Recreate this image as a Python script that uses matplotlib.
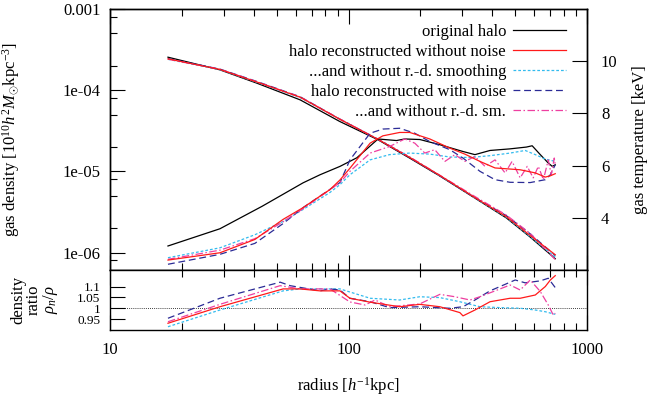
"""Gas density / temperature profiles of the original and reconstructed halo."""
import matplotlib
matplotlib.use("Agg")
import matplotlib.pyplot as plt
from matplotlib.ticker import FixedLocator, FixedFormatter, LogLocator, NullFormatter

plt.rcParams["font.family"] = ["Liberation Serif", "DejaVu Serif"]
plt.rcParams["mathtext.fontset"] = "custom"
plt.rcParams["mathtext.rm"] = "Liberation Serif"
plt.rcParams["mathtext.it"] = "Liberation Serif:italic"
plt.rcParams["font.size"] = 12

# ---- density profiles (h^-1 kpc, 10^10 h^2 Msun kpc^-3)
r_dens = [17.5, 28.9, 41.3, 62.7, 92, 133, 181, 241, 339, 459, 578, 736]
dens_orig = [2.55e-4, 1.78e-4, 1.22e-4, 7.6e-5, 4.11e-5, 2.45e-5, 1.45e-5, 8.8e-6, 4.68e-6, 2.67e-6, 1.55e-6, 8.4e-7]
dens_nonoise = [2.43e-4, 1.80e-4, 1.26e-4, 8.2e-5, 4.38e-5, 2.48e-5, 1.48e-5, 8.95e-6, 4.75e-6, 2.77e-6, 1.62e-6, 9.4e-7]
dens_nonoise_nosm = [2.40e-4, 1.79e-4, 1.25e-4, 8.1e-5, 4.4e-5, 2.5e-5, 1.49e-5, 8.9e-6, 4.7e-6, 2.72e-6, 1.57e-6, 8.8e-7]
dens_noise = [2.45e-4, 1.82e-4, 1.28e-4, 8.3e-5, 4.4e-5, 2.47e-5, 1.47e-5, 8.85e-6, 4.75e-6, 2.85e-6, 1.7e-6, 9.2e-7]
dens_noise_nosm = [2.41e-4, 1.81e-4, 1.27e-4, 8.25e-5, 4.42e-5, 2.49e-5, 1.5e-5, 9.0e-6, 4.9e-6, 2.9e-6, 1.72e-6, 8.2e-7]

# ---- temperature profiles (keV)
r_T_orig = [17.5, 28.9, 43.4, 64.5, 76, 92.1, 108.4, 133, 159, 172, 199, 241.6, 302, 339, 392, 474, 557, 589, 637, 688, 715, 736]
T_orig = [2.92, 3.58, 4.44, 5.34, 5.65, 5.97, 6.30, 7.02, 6.96, 7.02, 7.0, 6.8, 6.54, 6.42, 6.58, 6.64, 6.71, 6.76, 6.42, 6.10, 5.97, 6.03]

r_T_nonoise = [17.5, 28.9, 40.5, 53.2, 64.5, 76, 83.6, 92.1, 101.4, 123.2, 139.3, 163.9, 180.7, 219.3, 266, 307.6, 355.8, 411.5, 524.6, 607, 668.7, 702, 736]
T_nonoise = [2.38, 2.66, 3.17, 3.94, 4.39, 4.83, 5.08, 5.45, 5.9, 6.86, 7.14, 7.27, 7.27, 7.02, 6.67, 6.44, 6.16, 5.91, 5.84, 5.72, 5.56, 5.61, 5.69]

r_T_nonoise_nosm = [17.5, 28.9, 40.5, 53.2, 64.5, 83.6, 92.1, 101.4, 123.2, 148.6, 180.7, 219.3, 266, 323, 392, 476, 550.7, 607, 668.7, 736]
T_nonoise_nosm = [2.47, 2.85, 3.35, 3.86, 4.32, 4.97, 5.27, 5.65, 6.22, 6.42, 6.48, 6.44, 6.33, 6.31, 6.38, 6.48, 6.58, 6.42, 6.25, 6.16]

r_T_noise = [17.5, 28.9, 40.5, 53.2, 64.5, 92.1, 101.4, 123.2, 139.3, 163.9, 189.6, 219.3, 266, 302, 355.8, 411.5, 476, 578, 668.7, 702, 736]
T_noise = [2.22, 2.6, 3.02, 3.78, 4.39, 5.35, 6.22, 7.24, 7.40, 7.43, 7.24, 6.92, 6.61, 6.29, 5.78, 5.46, 5.36, 5.35, 5.46, 5.65, 6.03]

r_T_noise_nosm = [17.5, 28.9, 40.5, 53.2, 64.5, 92.1, 101.4, 123.2, 148.6, 172.1, 189.6, 208.9, 230, 253.6, 279.4, 307.6, 339, 373.5, 411.5, 453.5, 485, 524.6, 561.4, 595, 625, 656.5, 688, 708.5, 729, 736]
T_noise_nosm = [2.41, 2.76, 3.2, 3.85, 4.35, 5.35, 5.78, 6.48, 6.73, 7.02, 6.86, 6.48, 6.61, 6.16, 6.42, 6.16, 6.35, 5.97, 6.22, 5.72, 6.16, 5.53, 5.97, 5.53, 5.97, 5.46, 6.22, 5.65, 6.29, 6.03]

# ---- density ratio rho_n / rho
r_q_nonoise = [17.5, 28.9, 53.2, 62.7, 76, 92.1, 101.4, 123.2, 163.9, 199, 241.6, 293, 302, 339, 392, 476, 524.6, 607, 668.7, 702, 736]
q_nonoise = [0.931, 1.007, 1.089, 1.089, 1.08, 1.08, 1.046, 1.028, 1.007, 1.018, 1.007, 0.98, 0.965, 0.992, 1.03, 1.046, 1.046, 1.061, 1.1, 1.13, 1.15]

r_q_nonoise_nosm = [17.5, 28.9, 53.2, 62.7, 92.1, 123.2, 163.9, 199, 241.6, 293, 355.8, 432, 524.6, 607, 668.7, 736]
q_nonoise_nosm = [0.915, 0.992, 1.08, 1.089, 1.089, 1.046, 1.038, 1.053, 1.049, 1.03, 1.007, 1.003, 1.0, 0.992, 0.984, 0.972]

r_q_noise = [17.5, 28.9, 51.7, 56.9, 76, 83.6, 92.1, 101.4, 123.2, 148.6, 199, 266, 302, 339, 392, 453.5, 500, 550.7, 637, 688, 736]
q_noise = [0.954, 1.046, 1.12, 1.104, 1.08, 1.089, 1.084, 1.046, 1.03, 1.003, 1.007, 1.0, 1.007, 1.038, 1.08, 1.11, 1.13, 1.117, 1.126, 1.138, 1.095]

r_q_noise_nosm = [17.5, 28.9, 51.7, 62.7, 83.6, 101.4, 117.3, 129.3, 148.6, 199, 241.6, 279.4, 323, 355.8, 432, 476, 524.6, 578, 637, 688, 722, 736]
q_noise_nosm = [0.938, 1.018, 1.104, 1.089, 1.089, 1.029, 1.015, 1.038, 1.007, 1.02, 1.064, 1.053, 1.038, 1.053, 1.089, 1.107, 1.084, 1.13, 1.077, 1.015, 0.969, 0.977]

labels = [
    "original halo",
    "halo reconstructed without noise",
    "...and without r.-d. smoothing",
    "halo reconstructed with noise",
    "...and without r.-d. sm.",
]

BLACK = "black"
RED = "#ff1a1a"
CYAN = "#33bbee"
NAVY = "#2b2b96"
PINK = "#ee3fa0"
LW = 0.9

styles = {
    "orig": dict(color=BLACK, lw=LW, ls="-"),
    "nonoise": dict(color=RED, lw=LW, ls="-"),
    "nonoise_nosm": dict(color=CYAN, lw=LW, ls=(0, (2.2, 1.6))),
    "noise": dict(color=NAVY, lw=LW, ls=(0, (5.5, 3.0))),
    "noise_nosm": dict(color=PINK, lw=LW, ls=(0, (6, 2, 1.2, 2))),
}

fig = plt.figure(figsize=(6.53, 3.99), dpi=100)
W, H = 653.0, 399.0
ax = fig.add_axes([110 / W, (H - 270) / H, 477 / W, 261 / H])
axT = ax.twinx()
axR = fig.add_axes([110 / W, (H - 330) / H, 477 / W, 60 / H], sharex=ax)

# density curves
ax.plot(r_dens, dens_orig, **styles["orig"])
ax.plot(r_dens, dens_nonoise_nosm, **styles["nonoise_nosm"])
ax.plot(r_dens, dens_noise, **styles["noise"])
ax.plot(r_dens, dens_noise_nosm, **styles["noise_nosm"])
ax.plot(r_dens, dens_nonoise, **styles["nonoise"])

# temperature curves
h0, = axT.plot(r_T_orig, T_orig, **styles["orig"])
h2, = axT.plot(r_T_nonoise_nosm, T_nonoise_nosm, **styles["nonoise_nosm"])
h3, = axT.plot(r_T_noise, T_noise, **styles["noise"])
h4, = axT.plot(r_T_noise_nosm, T_noise_nosm, **styles["noise_nosm"])
h1, = axT.plot(r_T_nonoise, T_nonoise, **styles["nonoise"])

# ratio panel
axR.axhline(1.0, color="black", lw=0.6, ls=(0, (1, 1.5)))
axR.plot(r_q_nonoise_nosm, q_nonoise_nosm, **styles["nonoise_nosm"])
axR.plot(r_q_noise, q_noise, **styles["noise"])
axR.plot(r_q_noise_nosm, q_noise_nosm, **styles["noise_nosm"])
axR.plot(r_q_nonoise, q_nonoise, **styles["nonoise"])

ax.set_xscale("log")
ax.set_yscale("log")
ax.set_xlim(10, 1000)
ax.set_ylim(6.1e-7, 1e-3)
axT.set_ylim(2.0, 12.0)
axR.set_ylim(0.9, 1.176)

ax.yaxis.set_major_locator(FixedLocator([1e-6, 1e-5, 1e-4, 1e-3]))
ax.yaxis.set_major_formatter(FixedFormatter(["1e-06", "1e-05", "1e-04", "0.001"]))
ax.yaxis.set_minor_locator(LogLocator(base=10, subs=(2.0, 5.0, 8.0)))
ax.yaxis.set_minor_formatter(NullFormatter())
axT.set_yticks([4, 6, 8, 10])
axR.set_yticks([0.95, 1.0, 1.05, 1.1])
axR.set_yticklabels(["0.95", "1", "1.05", "1.1"])
axR.set_xticks([10, 100, 1000])
axR.set_xticklabels(["10", "100", "1000"])
axR.xaxis.set_minor_locator(LogLocator(base=10, subs=tuple(range(2, 10))))
axR.xaxis.set_minor_formatter(NullFormatter())

for a in (ax, axT, axR):
    for s in a.spines.values():
        s.set_linewidth(1.0)
ax.tick_params(axis="x", which="both", direction="in", top=True, bottom=True, labelbottom=False)
ax.tick_params(axis="x", which="major", length=11, width=0.8)
ax.tick_params(axis="x", which="minor", length=5, width=0.8)
ax.tick_params(axis="y", which="major", direction="in", length=11, width=0.8, right=False, pad=7, labelsize=12)
ax.tick_params(axis="y", which="minor", direction="in", length=5, width=0.8, right=False)
axT.tick_params(axis="y", which="major", direction="in", length=11, width=0.8, pad=10, labelsize=12)
axR.tick_params(axis="x", which="both", direction="in", top=True, bottom=True, pad=9, labelsize=12)
axR.tick_params(axis="x", which="major", length=11, width=0.8)
axR.tick_params(axis="x", which="minor", length=5, width=0.8)
axR.tick_params(axis="y", which="major", direction="in", length=11, width=0.8, right=False, pad=7, labelsize=9.5)
axR.tick_params(axis="y", which="minor", left=False, right=False)

ax.set_ylabel(r"gas density $[10^{10}h^2M_{\odot}\mathrm{kpc}^{-3}]$", fontsize=12)
ax.yaxis.set_label_coords(-0.185, 0.5)
axT.set_ylabel("gas temperature [keV]", fontsize=12)
axT.yaxis.set_label_coords(1.095, 0.5)
axR.set_xlabel(r"radius $[h^{-1}\mathrm{kpc}]$", fontsize=12, labelpad=12)

fig.text(18 / W, 1 - 300 / H, "density", rotation=90, ha="center", va="center", fontsize=12)
fig.text(34 / W, 1 - 300 / H, "ratio", rotation=90, ha="center", va="center", fontsize=12)
fig.text(51 / W, 1 - 300 / H, r"$\rho_n/\rho$", rotation=90, ha="center", va="center", fontsize=12)

axT.legend([h0, h1, h2, h3, h4], labels, loc="upper right", bbox_to_anchor=(0.956, 0.944),
           frameon=False, markerfirst=False, handlelength=3.2, handletextpad=0.4,
           labelspacing=0.24, borderpad=0, borderaxespad=0, fontsize=12)

fig.savefig("out.png", dpi=100)
